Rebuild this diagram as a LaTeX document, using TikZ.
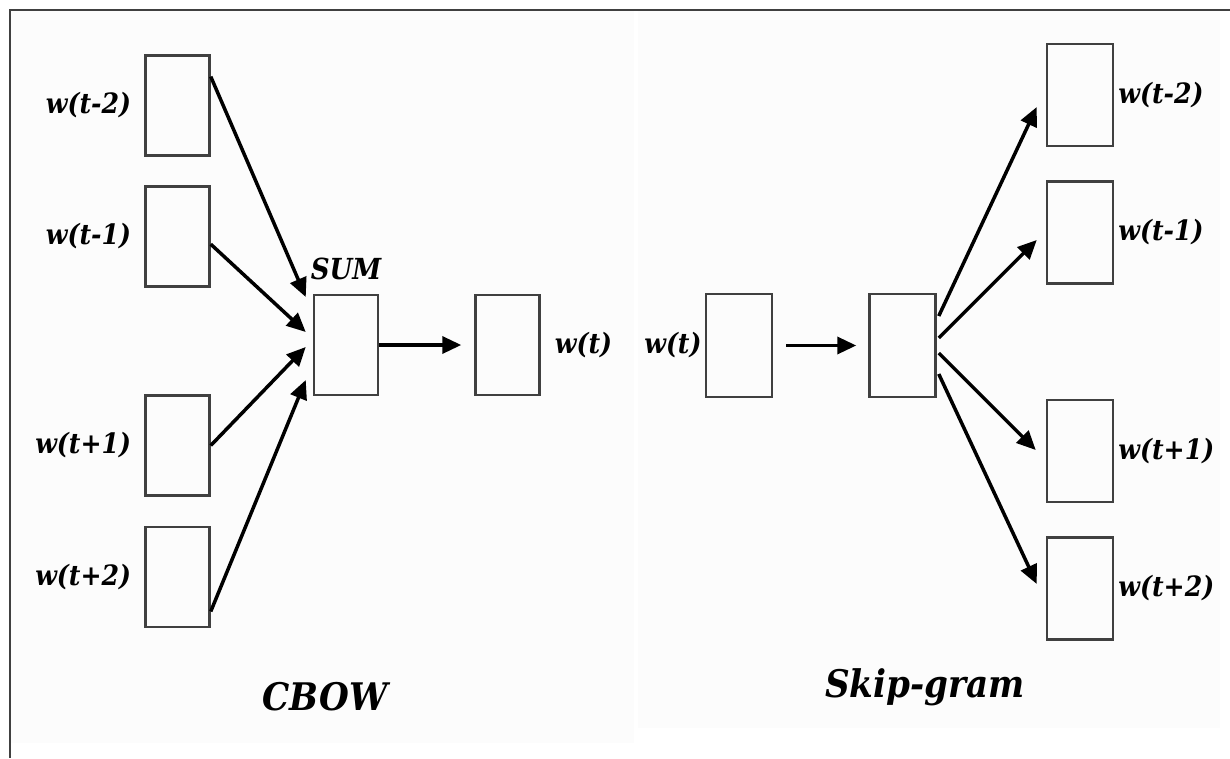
\documentclass[tikz,border=0pt]{standalone}
\usepackage{fontspec}
\setmainfont{DejaVu Serif Condensed}
\usetikzlibrary{calc}
\usetikzlibrary{positioning}
\usetikzlibrary{arrows.meta}

\begin{document}
\begin{tikzpicture}[x=1pt,y=-1pt,
    wbox/.style={draw=black!75,line width=2.5pt,minimum width=64pt,minimum height=100pt,inner sep=0pt},
    arr/.style={line width=3.5pt,-{Triangle[length=19pt,width=17pt]}},
    wlbl/.style={font=\fontsize{28}{32}\selectfont\bfseries\itshape,inner sep=0pt},
    captext/.style={font=\fontsize{38}{44}\selectfont\bfseries\itshape,inner sep=0pt,anchor=base}]%
    \useasboundingbox (0,0) rectangle (1230,758);%
    \fill[black!1] (11,11) rectangle (634,743);%
    \fill[black!1] (638,11) rectangle (1220,728);%
    \draw[black!75,line width=2pt] (1230,10) -- (10,10) -- (10,758);%
    \node[wbox] (in2) at (177.5,105.5) {};%
    \node[wbox] (in1) at (177.5,236.5) {};%
    \node[wbox] (ip1) at (177.5,445.5) {};%
    \node[wbox] (ip2) at (177.5,577) {};%
    \node[wbox] (sum) at (346,345) {};%
    \node[wbox] (out) at (507.5,345) {};%
    \node[wlbl,left=13pt of in2] {w(t-2)};%
    \node[wlbl,left=13pt of in1] {w(t-1)};%
    \node[wlbl,left=13pt of ip1] {w(t+1)};%
    \node[wlbl,left=13pt of ip2] {w(t+2)};%
    \node[wlbl,font=\fontsize{29}{32}\selectfont\bfseries\itshape,above=14pt of sum] {SUM};%
    \node[wlbl,right=14pt of out] {w(t)};%
    \draw[arr] (in2.41) -- ($(sum.west)+(-7,-48)$);%
    \draw[arr] (in1.-13) -- ($(sum.west)+(-7,-13)$);%
    \draw[arr] (ip1.0) -- ($(sum.west)+(-7,2)$);%
    \draw[arr] (ip2.-46) -- ($(sum.west)+(-7,35)$);%
    \draw[arr,shorten >=13pt] (sum) -- (out);%
    \node[captext] (cbow) at (325,710) {CBOW};%
    \node[wbox,minimum width=66pt,minimum height=103pt] (inp) at (739,345.5) {};%
    \node[wbox,minimum width=66pt,minimum height=103pt] (hid) at (902.5,345.5) {};%
    \node[wbox,minimum width=66pt,minimum height=102pt] (o2) at (1080,95) {};%
    \node[wbox,minimum width=66pt,minimum height=102pt] (o1) at (1080,232.5) {};%
    \node[wbox,minimum width=66pt,minimum height=102pt] (p1) at (1080,451) {};%
    \node[wbox,minimum width=66pt,minimum height=102pt] (p2) at (1080,588.5) {};%
    \node[wlbl,left=3pt of inp] {w(t)};%
    \node[wlbl,right=4pt of o2] {w(t-2)};%
    \node[wlbl,right=4pt of o1] {w(t-1)};%
    \node[wlbl,right=4pt of p1] {w(t+1)};%
    \node[wlbl,right=4pt of p2] {w(t+2)};%
    \draw[arr,shorten <=13pt,shorten >=12pt] (inp) -- (hid);%
    \draw[arr] ($(hid.east)+(2,-29.5)$) -- ($(o2.west)+(-9,12)$);%
    \draw[arr] ($(hid.east)+(2,-7.5)$) -- ($(o1.west)+(-9,7.5)$);%
    \draw[arr] ($(hid.east)+(2,7.5)$) -- ($(p1.west)+(-10,-1)$);%
    \draw[arr] ($(hid.east)+(2,28.5)$) -- ($(p2.west)+(-9,-4.5)$);%
    \node[captext] (skip) at (925,697) {Skip-gram};%
\end{tikzpicture}
\end{document}
